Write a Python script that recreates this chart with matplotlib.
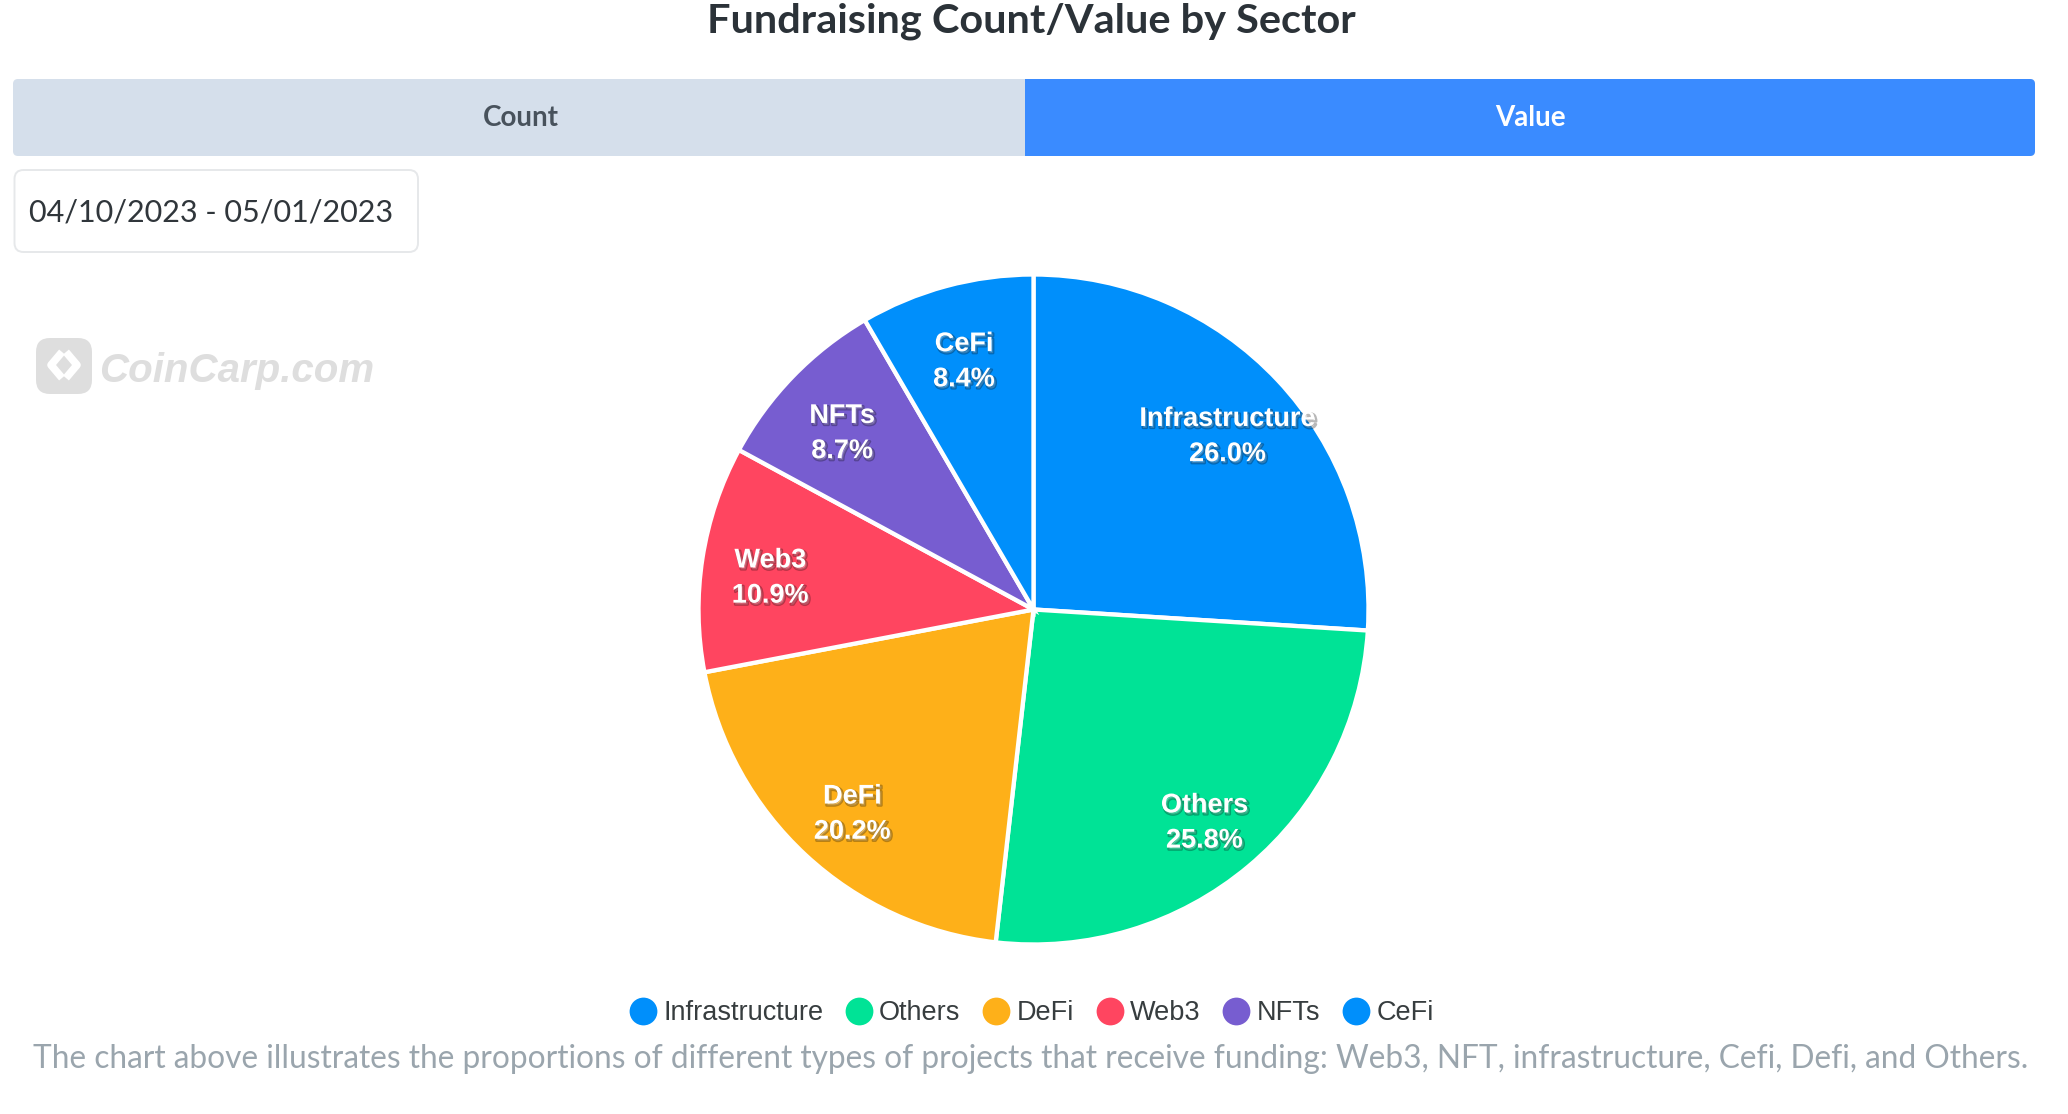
import matplotlib
matplotlib.use("Agg")
import matplotlib.pyplot as plt
import matplotlib.patheffects as pe
from matplotlib.patches import FancyBboxPatch, Rectangle
from matplotlib.lines import Line2D

W, H = 2068, 1114
sectors = ["Infrastructure", "Others", "DeFi", "Web3", "NFTs", "CeFi"]
shares = [26.0, 25.8, 20.2, 10.9, 8.7, 8.4]
colors = ["#008FFB", "#00E396", "#FEB019", "#FF4560", "#775DD0", "#008FFB"]
title = "Fundraising Count/Value by Sector"
tabs = ["Count", "Value"]
date_range = "04/10/2023 - 05/01/2023"
caption = ("The chart above illustrates the proportions of different types of projects that "
           "receive funding: Web3, NFT, infrastructure, Cefi, Defi, and Others.")

UI = "Lato"
SANS = "Liberation Sans"

fig = plt.figure(figsize=(W / 100, H / 100), dpi=100, facecolor="white")
bg = fig.add_axes([0, 0, 1, 1])
bg.set_xlim(0, W)
bg.set_ylim(H, 0)
bg.axis("off")

bg.text(1031, 21, title, ha="center", va="center", fontsize=29.85, fontweight="bold",
        family=UI, color="#2b3238")

bg.add_patch(FancyBboxPatch((13, 79), 2022, 77, boxstyle="round,pad=0,rounding_size=5",
                            fc="#D5DFEB", ec="none"))
bg.add_patch(FancyBboxPatch((1025, 79), 1010, 77, boxstyle="round,pad=0,rounding_size=5",
                            fc="#3A8BFF", ec="none"))
bg.add_patch(Rectangle((1025, 79), 20, 77, fc="#3A8BFF", ec="none"))
bg.text(521, 118.5, tabs[0], ha="center", va="center", fontsize=20, fontweight="bold",
        family=UI, color="#48525c")
bg.text(1530, 118.5, tabs[1], ha="center", va="center", fontsize=20, fontweight="bold",
        family=UI, color="white")

bg.add_patch(FancyBboxPatch((14.5, 170), 403.5, 82, boxstyle="round,pad=0,rounding_size=9",
                            fc="white", ec="#e6e8ea", lw=1.4))
bg.text(29, 212.5, date_range, ha="left", va="center", fontsize=22, family=UI, color="#30363b")

# watermark
bg.add_patch(FancyBboxPatch((36, 338), 56, 56, boxstyle="round,pad=0,rounding_size=14",
                            fc="#dedede", ec="none"))
bg.plot([62, 51, 62], [352, 365, 378], color="white", lw=5.5, solid_capstyle="butt")
bg.plot([66, 77, 66], [352, 365, 378], color="white", lw=5.5, solid_capstyle="butt")
bg.text(99, 370.5, "CoinCarp.com", ha="left", va="center", fontsize=29, fontweight="bold",
        style="italic", family=SANS, color="#dedede")

R, cx, cy = 335, 1033.5, 609.5
m = 1.02
ax = fig.add_axes([(cx - R * m) / W, 1 - (cy + R * m) / H, 2 * R * m / W, 2 * R * m / H])
labels = [f"{n}\n{v:.1f}%" for n, v in zip(sectors, shares)]
wedges, texts = ax.pie(shares, labels=labels, colors=colors, startangle=90, counterclock=False,
                       radius=1, labeldistance=0.795,
                       wedgeprops=dict(edgecolor="white", linewidth=3.1),
                       textprops=dict(color="white", fontsize=19.5, fontweight="bold", family=SANS,
                                      linespacing=1.46))
ax.set_xlim(-m, m)
ax.set_ylim(-m, m)
for t in texts:
    t.set_ha("center")
    t.set_va("center")
    x, y = t.get_position()
    t.set_position((x, y - 0.028))
    t.set_path_effects([pe.Stroke(linewidth=1.8, foreground="black", alpha=0.28, offset=(1.2, -1.4)),
                        pe.Normal()])

handles = [Line2D([], [], ls="none", marker="o", ms=20, mfc=c, mec="none") for c in colors]
bg.legend(handles, sectors, loc="center", bbox_to_anchor=(1029.4 / W, 1 - 1013.5 / H),
          bbox_transform=fig.transFigure, ncol=6, frameon=False,
          prop=dict(family=SANS, size=19.5), labelcolor="#373d3f", handletextpad=0.1,
          columnspacing=0.67, handlelength=1.3, borderpad=0)

bg.text(1031, 1059, caption, ha="center", va="center", fontsize=22.8, family=UI, color="#9aa5ad")

fig.savefig("out.png", dpi=100, facecolor="white")
